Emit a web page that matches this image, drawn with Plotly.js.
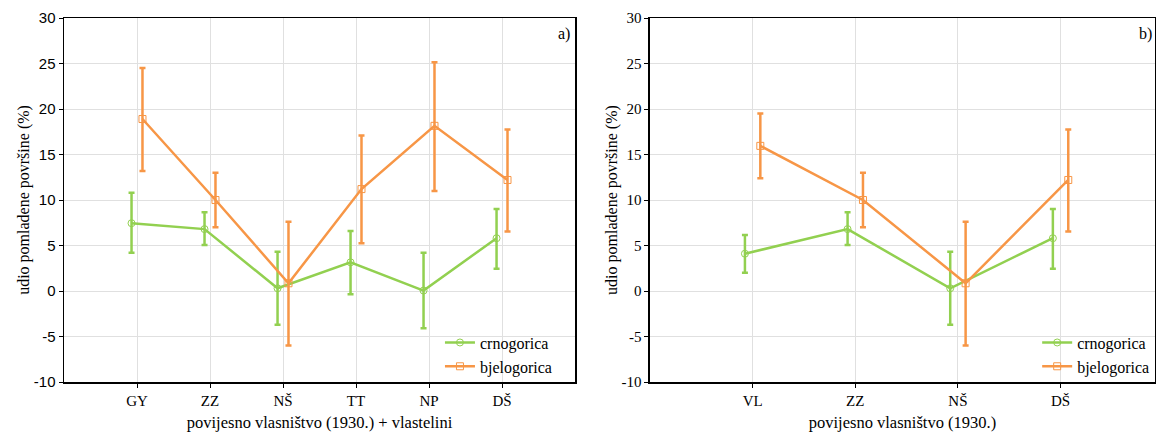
<!DOCTYPE html>
<html>
<head>
<meta charset="utf-8">
<script src="https://cdn.plot.ly/plotly-3.0.1.min.js"></script>
<style>html,body{margin:0;padding:0;background:#fff;}#chart{width:1156px;height:432px;}</style>
</head>
<body>
<div id="chart"></div>
<script>
// Panel a)
const catsA = ["GY", "ZZ", "NŠ", "TT", "NP", "DŠ"];
const crnoA = [7.45, 6.8, 0.3, 3.15, 0.05, 5.8];
const crnoA_hi = [10.8, 8.65, 4.3, 6.6, 4.2, 9.0];
const crnoA_lo = [4.2, 5.05, -3.7, -0.35, -4.1, 2.45];
const bjeloA = [18.9, 10.0, 0.85, 11.2, 18.15, 12.2];
const bjeloA_hi = [24.5, 13.0, 7.6, 17.1, 25.15, 17.75];
const bjeloA_lo = [13.2, 7.0, -6.0, 5.25, 11.0, 6.55];

// Panel b)
const catsB = ["VL", "ZZ", "NŠ", "DŠ"];
const crnoB = [4.1, 6.8, 0.3, 5.8];
const crnoB_hi = [6.15, 8.65, 4.3, 9.0];
const crnoB_lo = [2.0, 5.05, -3.7, 2.45];
const bjeloB = [15.95, 10.0, 0.85, 12.2];
const bjeloB_hi = [19.5, 13.0, 7.6, 17.75];
const bjeloB_lo = [12.4, 7.0, -6.0, 6.55];

const yTicks = [-10, -5, 0, 5, 10, 15, 20, 25, 30];
const yTickText = ["-10", "-5", "0", "5", "10", "15", "20", "25", "30"];

const GREEN = "#92d050";
const ORANGE = "#f79646";
const SERIF = "Liberation Serif";
const SANS = "Liberation Sans";
const OFF = 0.075;

function trace(cats, vals, hi, lo, name, color, symbol, dx, xa, ya, legend) {
  return {
    type: "scatter", mode: "lines+markers", name: name,
    x: cats.map((c, i) => i + dx), y: vals,
    xaxis: xa, yaxis: ya, legend: legend,
    line: {color: color, width: 2.5},
    marker: {symbol: symbol, size: 7, color: color, line: {color: color, width: 1}},
    error_y: {type: "data", symmetric: false,
      array: hi.map((h, i) => h - vals[i]),
      arrayminus: lo.map((l, i) => vals[i] - l),
      color: color, thickness: 2.5, width: 3}
  };
}

const data = [
  trace(catsA, crnoA, crnoA_hi, crnoA_lo, "crnogorica", GREEN, "circle-open", -OFF, "x", "y", "legend"),
  trace(catsA, bjeloA, bjeloA_hi, bjeloA_lo, "bjelogorica", ORANGE, "square-open", OFF, "x", "y", "legend"),
  trace(catsB, crnoB, crnoB_hi, crnoB_lo, "crnogorica", GREEN, "circle-open", -OFF, "x2", "y2", "legend2"),
  trace(catsB, bjeloB, bjeloB_hi, bjeloB_lo, "bjelogorica", ORANGE, "square-open", OFF, "x2", "y2", "legend2")
];

function xaxis(cats, domain, title, range) {
  return {
    domain: domain, range: range,
    tickmode: "array", tickvals: cats.map((c, i) => i), ticktext: cats,
    showgrid: true, gridcolor: "#e0e0e0", gridwidth: 1, zeroline: false,
    showline: true, linecolor: "#000", linewidth: 1.5, mirror: true,
    ticks: "outside", ticklen: 4, tickcolor: "#000",
    tickfont: {family: SERIF, size: 15, color: "#000"},
    title: {text: title, font: {family: SERIF, size: 16.5, color: "#000"}, standoff: 12}
  };
}
function yaxis(anchor, tickFamily) {
  return {
    anchor: anchor, domain: [0, 1], range: [-10, 30],
    tickmode: "array", tickvals: yTicks, ticktext: yTickText,
    showgrid: true, gridcolor: "#e0e0e0", gridwidth: 1, zeroline: false,
    showline: true, linecolor: "#000", linewidth: 1.5, mirror: true,
    ticks: "outside", ticklen: 4, tickcolor: "#000",
    tickfont: {family: tickFamily, size: 15, color: "#000"},
    title: {text: "udio pomladene površine (%)", font: {family: SERIF, size: 16, color: "#000"}, standoff: 0}
  };
}

const layout = {
  width: 1156, height: 432,
  margin: {l: 64, r: 1, t: 18, b: 50},
  paper_bgcolor: "#fff", plot_bgcolor: "#fff",
  showlegend: true,
  xaxis: Object.assign(xaxis(catsA, [0, 0.4684], "povijesno vlasništvo (1930.) + vlastelini", [-1, 6]), {anchor: "y"}),
  yaxis: yaxis("x", SANS),
  xaxis2: Object.assign(xaxis(catsB, [0.5371, 1], "povijesno vlasništvo (1930.)", [-1, 3.92]), {anchor: "y2"}),
  yaxis2: yaxis("x2", SERIF),
  legend: {x: 0.3446, y: 0.155, xanchor: "left", yanchor: "top", bgcolor: "rgba(0,0,0,0)",
    font: {family: SERIF, size: 16, color: "#000"}, tracegroupgap: 0, itemwidth: 30},
  legend2: {x: 0.892, y: 0.155, xanchor: "left", yanchor: "top", bgcolor: "rgba(0,0,0,0)",
    font: {family: SERIF, size: 16, color: "#000"}, tracegroupgap: 0, itemwidth: 30},
  annotations: [
    {text: "a)", xref: "x domain", yref: "y domain", x: 0.995, y: 0.985, xanchor: "right", yanchor: "top",
      showarrow: false, font: {family: SERIF, size: 16, color: "#000"}},
    {text: "b)", xref: "x2 domain", yref: "y2 domain", x: 1.0, y: 0.985, xanchor: "right", yanchor: "top", xshift: -1,
      showarrow: false, font: {family: SERIF, size: 16, color: "#000"}}
  ]
};

Plotly.newPlot("chart", data, layout, {displayModeBar: false, staticPlot: true});
</script>
</body>
</html>
